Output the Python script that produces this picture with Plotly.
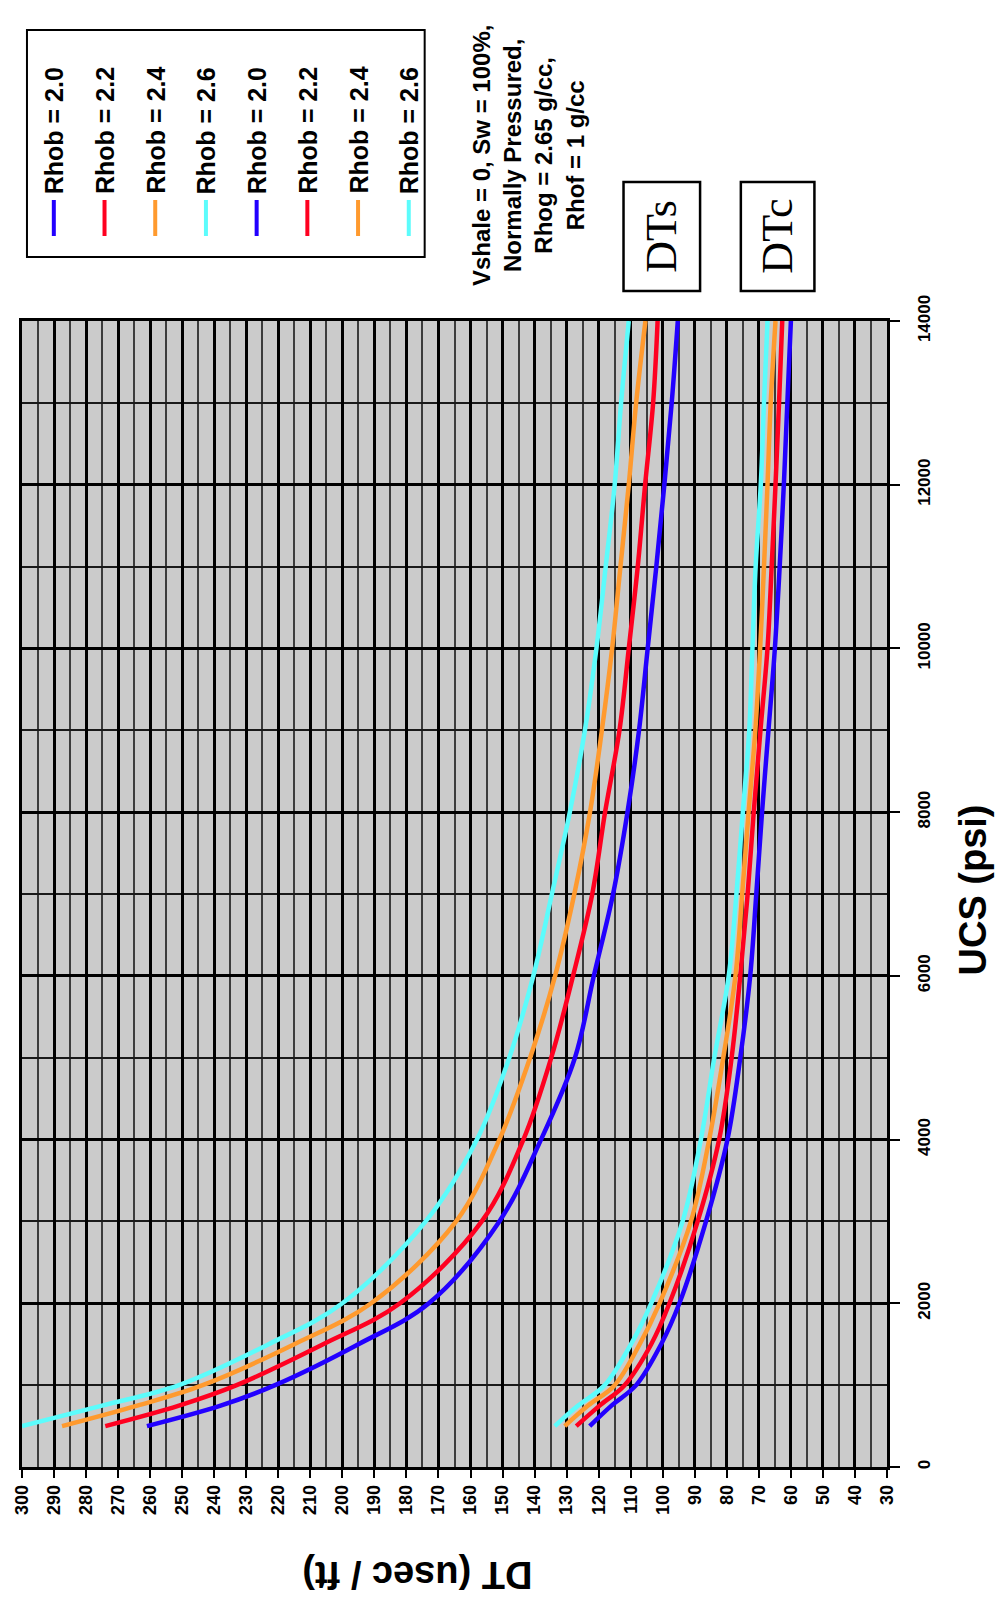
import plotly.graph_objects as go

# ---------------- data ----------------
ucs = [500, 750, 1000, 1500, 2000, 3000, 4000, 5000, 6000, 7000, 8000, 9000, 10000, 11000, 12000, 13000, 14000]

dts_20 = [261, 238, 221, 195, 173, 151, 138, 127.4, 121.5, 115.5, 111, 107.4, 104.7, 102, 99.5, 97.2, 95.3]
dts_22 = [274, 251, 233, 206, 182, 156.5, 143.5, 134.8, 128, 122, 118, 113.5, 110.6, 107.8, 105.5, 103, 101.6]
dts_24 = [287.5, 264, 243.6, 215, 191, 164.5, 151, 141.4, 133.6, 127.6, 122.7, 119, 115.8, 113.2, 110.6, 108.3, 105.4]
dts_26 = [300, 275, 251, 223, 200, 174, 158, 147.9, 140.4, 134.6, 129, 124.3, 120.7, 117.8, 115, 113, 110.6]

dtc_20 = [122.8, 116, 108.3, 100.5, 94.8, 86.5, 79.8, 75.8, 72.7, 70.8, 69, 67, 65, 63.5, 62.2, 61.1, 60]
dtc_22 = [127, 119.7, 111.9, 103.6, 97.9, 89.1, 82.4, 78.5, 75.8, 73.5, 71.6, 69.5, 67.3, 66, 64.8, 63.7, 62.7]
dtc_24 = [130.6, 123.3, 115, 107.2, 101, 91.2, 85.5, 81.1, 77.3, 75.2, 73.2, 71.1, 69.6, 68.4, 67.3, 66.3, 64.8]
dtc_26 = [133.7, 126.4, 118.1, 109.9, 103.6, 93.8, 88.1, 83.9, 79.4, 77, 75, 73, 72, 71, 69.4, 68.4, 67.3]

legend_labels = ["Rhob = 2.0", "Rhob = 2.2", "Rhob = 2.4", "Rhob = 2.6",
                 "Rhob = 2.0", "Rhob = 2.2", "Rhob = 2.4", "Rhob = 2.6"]
note_text = "Vshale = 0, Sw = 100%,<br>Normally Pressured,<br>Rhog = 2.65 g/cc,<br>Rhof = 1 g/cc"

colors = ["#2200ff", "#ff0020", "#ff9a2e", "#5cfcfc"]

# ---------------- layout helpers ----------------
W, H = 996, 1606
L, R, T, B = 17, 109, 321, 139
PW, PH = W - L - R, H - T - B


def px(x):
    return (x - L) / PW


def py(y):
    return (H - B - y) / PH


fig = go.Figure()

series_s = [dts_20, dts_22, dts_24, dts_26]
series_c = [dtc_20, dtc_22, dtc_24, dtc_26]
for vals, col, name in zip(series_s, colors, legend_labels[:4]):
    fig.add_trace(go.Scatter(x=vals, y=ucs, mode="lines", name="DTs " + name,
                             line=dict(color=col, width=4.5, shape="spline"),
                             showlegend=False, cliponaxis=True))
for vals, col, name in zip(series_c, colors, legend_labels[4:]):
    fig.add_trace(go.Scatter(x=vals, y=ucs, mode="lines", name="DTc " + name,
                             line=dict(color=col, width=4.5, shape="spline"),
                             showlegend=False, cliponaxis=True))

tickfont = dict(family="Liberation Sans, Arial", size=18, color="black", weight="bold")

fig.update_xaxes(range=[300, 30], dtick=10, tick0=0, showgrid=True, gridcolor="black", gridwidth=2.6,
                 minor=dict(dtick=5, showgrid=True, gridcolor="#3c3c3c", gridwidth=1.8, ticks=""),
                 showline=True, linecolor="black", linewidth=2.5, mirror=True,
                 ticks="outside", ticklen=8, tickwidth=2, tickcolor="black",
                 tickangle=-90, tickfont=tickfont, zeroline=False, tickformat="d")
fig.update_yaxes(range=[0, 14000], dtick=2000, side="right", showgrid=True, gridcolor="black", gridwidth=2.6,
                 minor=dict(dtick=1000, showgrid=True, gridcolor="#1a1a1a", gridwidth=1.6, ticks=""),
                 showline=True, linecolor="black", linewidth=2.5, mirror=True,
                 ticks="outside", ticklen=10, tickwidth=2, tickcolor="black",
                 tickangle=-90, tickfont=dict(family="Liberation Sans, Arial", size=17, color="black", weight="bold"),
                 zeroline=False, ticklabelstandoff=10, tickformat="d", exponentformat="none")

shapes = []
annotations = []

# legend box
shapes.append(dict(type="rect", xref="paper", yref="paper",
                   x0=px(22), x1=px(422), y0=py(257), y1=py(30),
                   line=dict(color="black", width=2), fillcolor="white", layer="above"))
leg_cols = colors + colors
for i, (lab, col) in enumerate(zip(legend_labels, leg_cols)):
    cx = 49 + i * 51
    shapes.append(dict(type="line", xref="paper", yref="paper",
                       x0=px(cx), x1=px(cx), y0=py(236), y1=py(200),
                       line=dict(color=col, width=4), layer="above"))
    annotations.append(dict(text=lab, xref="paper", yref="paper", x=px(cx), y=py(196),
                            xanchor="center", yanchor="bottom", textangle=-90, showarrow=False,
                            font=dict(family="Liberation Sans, Arial", size=25, color="black", weight="bold")))

# note text
annotations.append(dict(text=note_text, xref="paper", yref="paper", x=px(526), y=py(155),
                        xanchor="center", yanchor="middle", textangle=-90, showarrow=False, align="center",
                        font=dict(family="Liberation Sans, Arial", size=24, color="black", weight="bold")))

# DTs / DTc boxes
for (x0, x1, lab) in [(622, 699, "DTs"), (740, 814, "DTc")]:
    shapes.append(dict(type="rect", xref="paper", yref="paper",
                       x0=px(x0), x1=px(x1), y0=py(291), y1=py(182),
                       line=dict(color="black", width=2.5), fillcolor="white", layer="above"))
    annotations.append(dict(text=lab, xref="paper", yref="paper", x=px((x0 + x1) / 2), y=py(236),
                            xanchor="center", yanchor="middle", textangle=-90, showarrow=False,
                            font=dict(family="Liberation Serif, Times New Roman", size=44, color="black")))

# axis titles
annotations.append(dict(text="UCS (psi)", xref="paper", yref="paper", x=px(973), y=py(890),
                        xanchor="center", yanchor="middle", textangle=-90, showarrow=False,
                        font=dict(family="Liberation Sans, Arial", size=38, color="black", weight="bold")))
annotations.append(dict(text="DT (usec / ft)", xref="paper", yref="paper", x=px(415), y=py(1575),
                        xanchor="center", yanchor="middle", textangle=180, showarrow=False,
                        font=dict(family="Liberation Sans, Arial", size=38, color="black", weight="bold")))

fig.update_layout(width=W, height=H, margin=dict(l=L, r=R, t=T, b=B, pad=0),
                  plot_bgcolor="#cbcbcb", paper_bgcolor="white",
                  shapes=shapes, annotations=annotations, showlegend=False)

fig.write_html("out.html")
